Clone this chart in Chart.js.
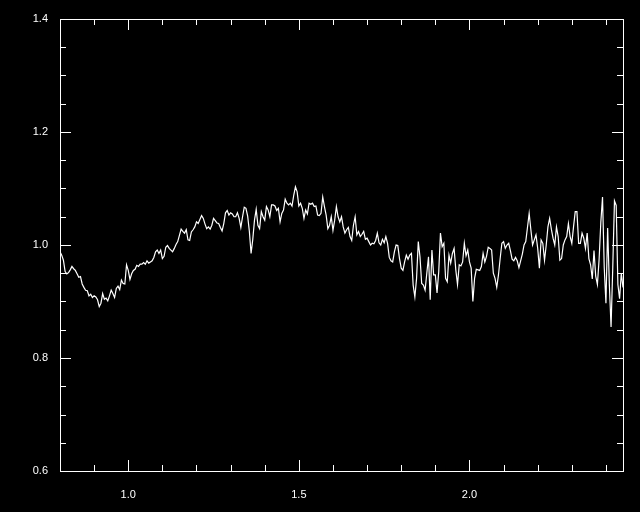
<!DOCTYPE html>
<html>
<head>
<meta charset="utf-8">
<script src="https://cdn.jsdelivr.net/npm/chart.js@4/dist/chart.umd.min.js"></script>
<style>
  html, body { margin: 0; padding: 0; background: #000; }
  #spectrum { display: block; background: #000; }
</style>
</head>
<body>
<canvas id="spectrum" width="640" height="512"></canvas>
<script>
// x grid: 0.800 .. 2.450, one sample every 0.005
var xStart = 0.8;
var xStep = 0.005;

var fluxValues = [
    0.988, 0.982, 0.973, 0.953, 0.949, 0.951, 0.956, 0.962, 0.958, 0.955,
    0.949, 0.943, 0.944, 0.931, 0.925, 0.920, 0.919, 0.910, 0.913, 0.907,
    0.910, 0.908, 0.903, 0.891, 0.897, 0.914, 0.904, 0.906, 0.901, 0.910,
    0.920, 0.914, 0.907, 0.923, 0.927, 0.921, 0.938, 0.932, 0.931, 0.965,
    0.955, 0.939, 0.949, 0.955, 0.957, 0.964, 0.962, 0.966, 0.966, 0.969,
    0.966, 0.972, 0.968, 0.970, 0.972, 0.978, 0.988, 0.991, 0.985, 0.991,
    0.976, 0.980, 0.996, 0.999, 0.994, 0.991, 0.988,
    0.994, 1.001, 1.006, 1.017, 1.028, 1.024, 1.021, 1.027, 1.009, 1.008,
    1.023, 1.027, 1.032, 1.041, 1.038, 1.045, 1.052, 1.047, 1.037, 1.029,
    1.032, 1.028, 1.035, 1.047, 1.043, 1.039, 1.038, 1.031, 1.025, 1.038,
    1.057, 1.061, 1.053, 1.057, 1.055, 1.050, 1.050, 1.057, 1.047, 1.031,
    1.050, 1.067, 1.065, 1.051, 1.024, 0.985, 1.010, 1.044, 1.063, 1.035,
    1.029, 1.059, 1.050, 1.044, 1.068, 1.062, 1.050, 1.071, 1.071, 1.069,
    1.061, 1.065, 1.041, 1.056, 1.062,
    1.081, 1.074, 1.071, 1.074, 1.069, 1.088, 1.103, 1.094, 1.069, 1.074,
    1.065, 1.047, 1.062, 1.055, 1.074, 1.072, 1.074, 1.068, 1.069, 1.053,
    1.052, 1.056, 1.085, 1.068, 1.053, 1.029, 1.035, 1.050, 1.026, 1.044,
    1.068, 1.050, 1.041, 1.050, 1.032, 1.021, 1.027, 1.031, 1.015, 1.008,
    1.035, 1.050, 1.018, 1.024, 1.015, 1.019, 1.024, 1.010, 1.012, 1.006,
    1.000, 1.003, 1.002, 1.008, 1.021, 1.004, 1.000, 1.010, 1.004, 1.015,
    1.003, 0.978, 0.972, 0.970, 0.988, 1.000,
    0.999, 0.976, 0.959, 0.955, 0.970, 0.982, 0.975, 0.982, 0.985, 0.929,
    0.908, 0.941, 1.006, 0.979, 0.932, 0.929, 0.920, 0.950, 0.979, 0.903,
    0.991, 0.947, 0.947, 0.915, 0.953, 1.021, 0.997, 1.003, 0.941, 0.935,
    0.982, 0.968, 0.985, 0.994, 0.956, 0.930, 0.965, 0.963, 0.970, 1.003,
    0.981, 0.991, 0.970, 0.959, 0.900, 0.941, 0.957, 0.956, 0.955, 0.962,
    0.985, 0.970, 0.980, 0.996, 0.994, 0.991, 0.950, 0.941, 0.925, 0.947,
    0.976, 1.003, 1.006, 0.994, 1.000, 1.003,
    0.990, 0.975, 0.972, 0.978, 0.972, 0.960, 0.972, 0.984, 1.000, 1.006,
    1.031, 1.056, 1.027, 1.000, 1.009, 1.018, 0.994, 0.959, 1.009, 1.003,
    0.973, 1.000, 1.032, 1.047, 1.028, 1.012, 1.000, 1.032, 1.015, 0.973,
    0.976, 1.000, 1.009, 1.015, 1.038, 1.015, 1.003, 1.032, 1.059, 1.059,
    1.003, 1.003, 1.021, 1.012, 0.994, 1.021, 0.976, 0.965, 0.940, 0.990,
    0.945, 0.930, 0.975, 1.040, 1.085, 0.960, 0.897, 1.030, 0.930, 0.855,
    0.960, 1.078, 1.070, 0.930, 0.905, 0.950, 0.925
];

var xMajorTicks = [1.0, 1.5, 2.0];
var xMinorTicks = [0.9, 1.1, 1.2, 1.3, 1.4, 1.6, 1.7, 1.8, 1.9, 2.1, 2.2, 2.3, 2.4];
var yMajorTicks = [0.6, 0.8, 1.0, 1.2, 1.4];
var yMinorTicks = [0.65, 0.7, 0.75, 0.85, 0.9, 0.95, 1.05, 1.1, 1.15, 1.25, 1.3, 1.35];

var points = fluxValues.map(function (v, i) {
    return { x: +(xStart + i * xStep).toFixed(3), y: v };
});

// box around the plot plus inward tick marks on all four sides
var framePlugin = {
    id: 'frame',
    afterDraw: function (chart) {
        var ctx = chart.ctx;
        var area = chart.chartArea;
        var xs = chart.scales.x;
        var ys = chart.scales.y;
        ctx.save();
        ctx.strokeStyle = '#ffffff';
        ctx.lineWidth = 1;
        ctx.strokeRect(Math.round(area.left) + 0.5, Math.round(area.top) + 0.5,
            Math.round(area.right - area.left), Math.round(area.bottom - area.top));
        function xTick(v, len) {
            var px = Math.round(xs.getPixelForValue(v)) + 0.5;
            ctx.beginPath();
            ctx.moveTo(px, area.bottom);
            ctx.lineTo(px, area.bottom - len);
            ctx.moveTo(px, area.top);
            ctx.lineTo(px, area.top + len);
            ctx.stroke();
        }
        function yTick(v, len) {
            var py = Math.round(ys.getPixelForValue(v)) + 0.5;
            ctx.beginPath();
            ctx.moveTo(area.left, py);
            ctx.lineTo(area.left + len, py);
            ctx.moveTo(area.right, py);
            ctx.lineTo(area.right - len, py);
            ctx.stroke();
        }
        xMajorTicks.forEach(function (v) { xTick(v, 11); });
        xMinorTicks.forEach(function (v) { xTick(v, 6); });
        yMajorTicks.forEach(function (v) { yTick(v, 11); });
        yMinorTicks.forEach(function (v) { yTick(v, 6); });
        ctx.restore();
    }
};

var tickFont = { family: 'Liberation Sans', size: 11 };

new Chart(document.getElementById('spectrum').getContext('2d'), {
    type: 'line',
    data: {
        datasets: [{
            data: points,
            borderColor: '#ffffff',
            borderWidth: 1.2,
            pointRadius: 0,
            tension: 0,
            fill: false
        }]
    },
    options: {
        responsive: false,
        animation: false,
        events: [],
        layout: { padding: { top: 19, right: 17, left: 0, bottom: 0 } },
        plugins: { legend: { display: false }, tooltip: { enabled: false } },
        scales: {
            x: {
                type: 'linear',
                min: 0.8,
                max: 2.45,
                grid: { display: false },
                border: { display: false },
                afterBuildTicks: function (scale) {
                    scale.ticks = xMajorTicks.map(function (v) { return { value: v }; });
                },
                afterFit: function (scale) { scale.height = 41; },
                ticks: {
                    color: '#ffffff',
                    font: tickFont,
                    padding: 9,
                    maxRotation: 0,
                    callback: function (v) { return Number(v).toFixed(1); }
                }
            },
            y: {
                min: 0.6,
                max: 1.4,
                grid: { display: false },
                border: { display: false },
                afterBuildTicks: function (scale) {
                    scale.ticks = yMajorTicks.map(function (v) { return { value: v }; });
                },
                afterFit: function (scale) { scale.width = 60; },
                ticks: {
                    color: '#ffffff',
                    font: tickFont,
                    padding: 4,
                    callback: function (v) { return Number(v).toFixed(1); }
                }
            }
        }
    },
    plugins: [framePlugin]
});
</script>
</body>
</html>
